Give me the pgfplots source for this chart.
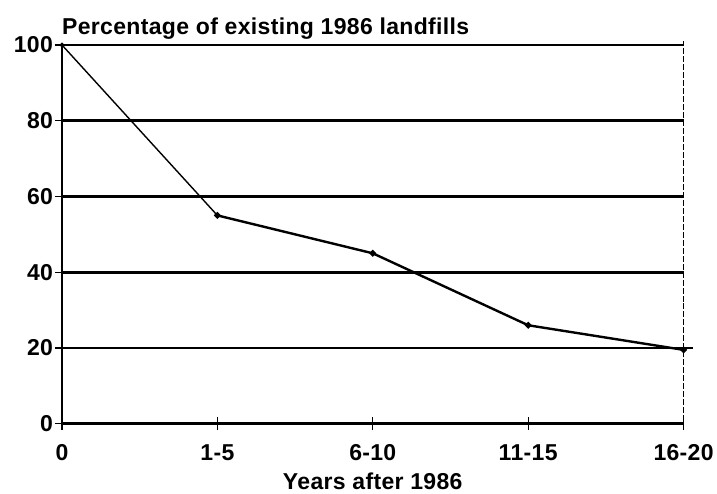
\documentclass[border=0pt]{standalone}
\usepackage{fontspec}
\setmainfont{Liberation Sans}[LetterSpace=1.5]
\usepackage{pgfplots}
\pgfplotsset{compat=1.18}

\begin{document}
\begin{tikzpicture}
\begin{axis}[
  scale only axis,
  width=622pt, height=379pt,
  xmin=0, xmax=4, ymin=0, ymax=100,
  axis x line*=bottom, axis y line*=left,
  axis line style={line width=2pt, -},
  xtick={0,1,2,3,4},
  xticklabels={0,1-5,6-10,11-15,16-20},
  ytick={0,20,40,60,80,100},
  x tick style={line width=1.3pt, black},
  y tick style={line width=1.3pt, black},
  tick align=center,
  major tick length=13pt,
  ymajorgrids,
  grid style={black, line width=2.8pt},
  /pgf/number format/assume math mode=true,
  tick label style={font=\fontsize{23}{26}\selectfont\bfseries},
  xticklabel style={anchor=base, yshift=-30pt},
  yticklabel style={anchor=east, xshift=1pt},
  xlabel={Years after 1986},
  xlabel style={font=\fontsize{23}{26}\selectfont\bfseries,
    at={(axis description cs:0.5,0)}, anchor=base, yshift=-66pt},
  clip=false,
]
\addplot[black, line width=1.4pt, mark=*, mark size=1.6pt] coordinates {
  (0,100) (1,55)
};
\addplot[black, line width=2.4pt, mark=*, mark size=1.9pt] coordinates {
  (1,55) (2,45) (3,26) (4,19.5)
};
\draw[black, line width=1.3pt, dash pattern=on 6pt off 2pt] (axis cs:4,-1.5) -- (axis cs:4,101);
\draw[black, line width=2.8pt] (axis cs:4,20) -- ([xshift=9pt]axis cs:4,20);
\node[anchor=base west, inner sep=0pt, font=\fontsize{23}{26}\selectfont\bfseries]
  at ([yshift=10pt]axis cs:0,100) {Percentage of existing 1986 landfills};
\path ([xshift=-62pt, yshift=45pt]axis cs:0,100) -- ([xshift=33pt]axis cs:4,0);
\end{axis}
\end{tikzpicture}
\end{document}
